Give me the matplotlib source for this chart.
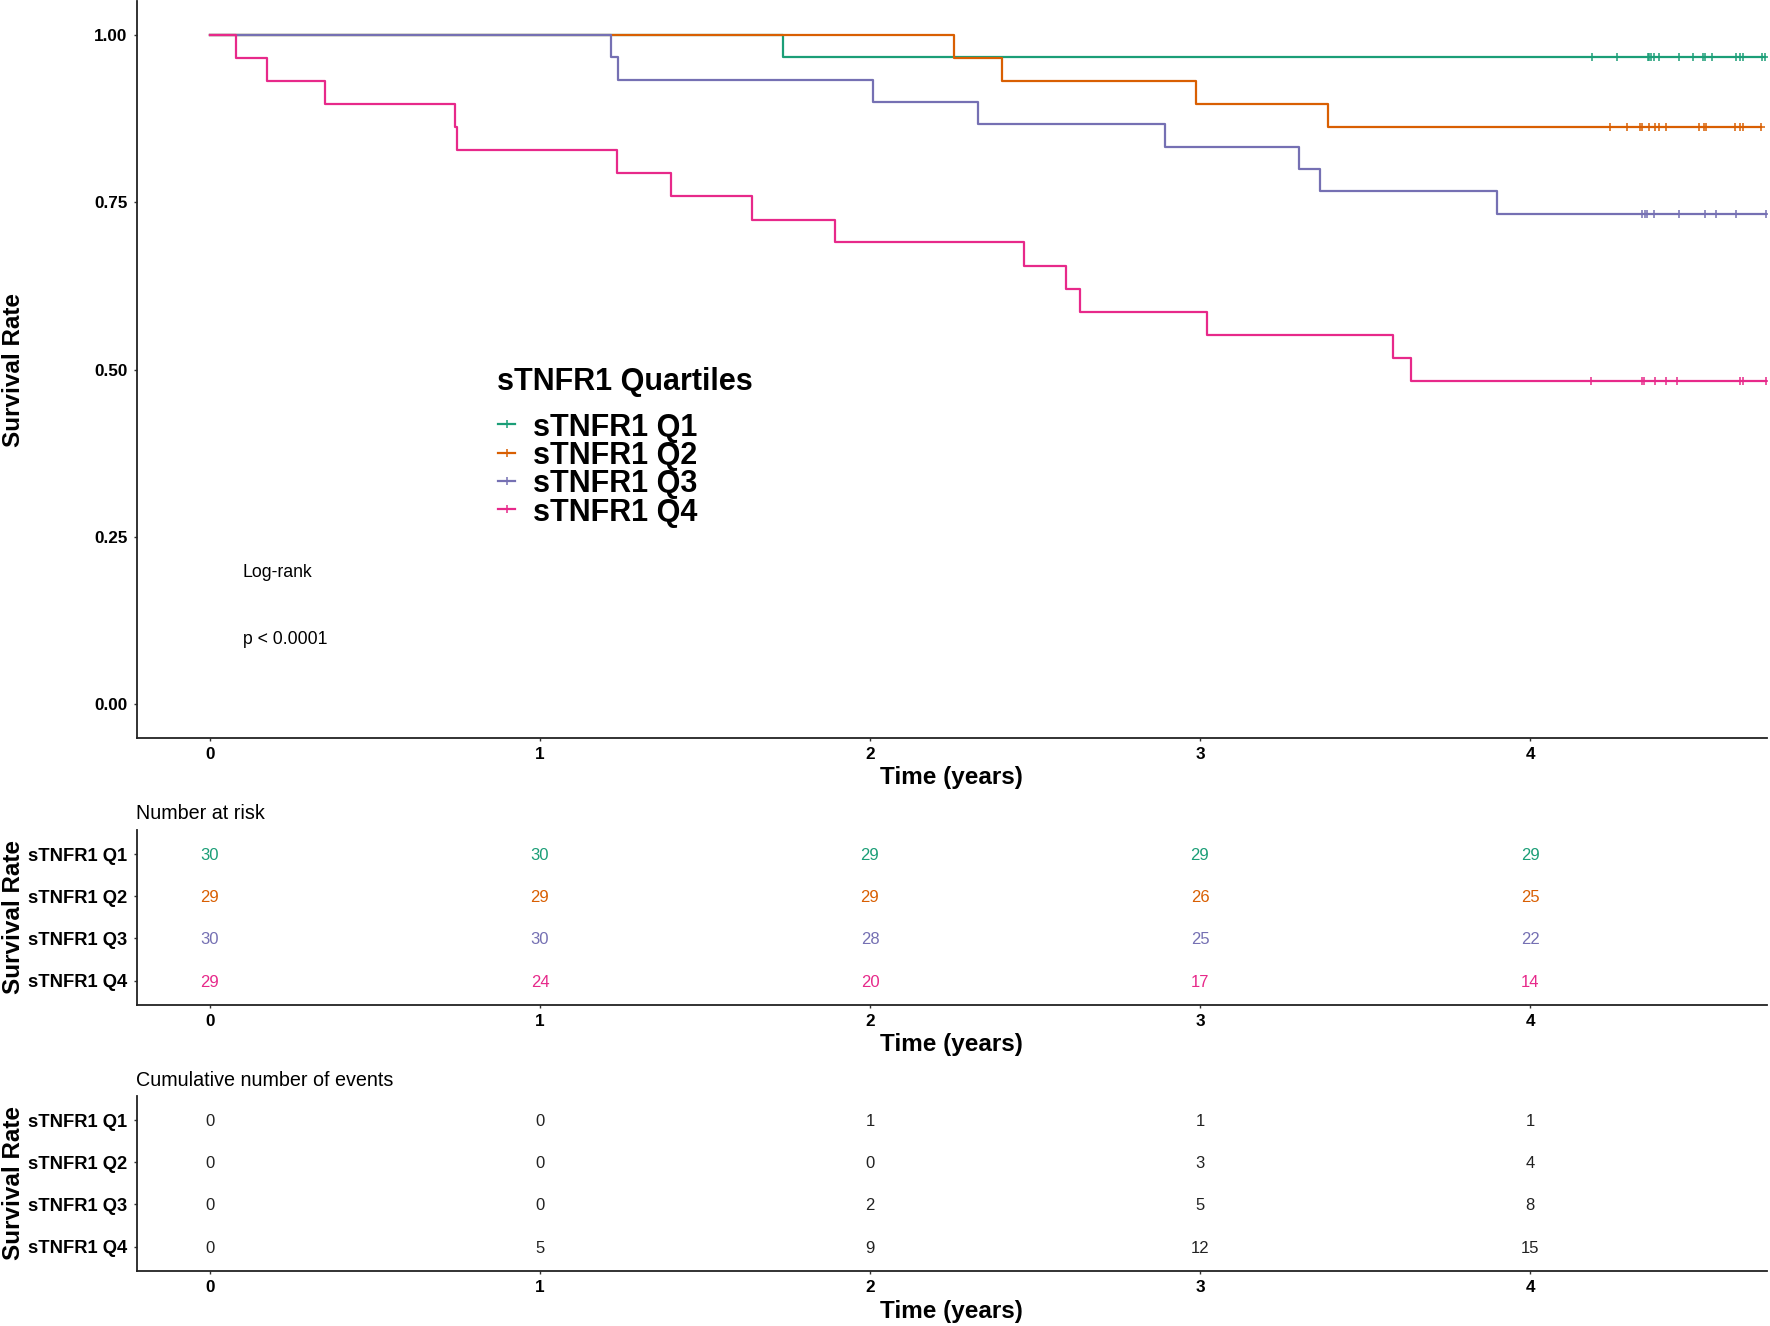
import matplotlib
matplotlib.use('Agg')
import matplotlib.pyplot as plt
import numpy as np

plt.rcParams['font.family'] = ['Liberation Sans', 'DejaVu Sans']

# groups and colours (Dark2)
groups = ['sTNFR1 Q1', 'sTNFR1 Q2', 'sTNFR1 Q3', 'sTNFR1 Q4']
colors = ['#1B9E77', '#D95F02', '#7570B3', '#E7298A']

# event times (years) and survival level after each event
q1_times = [1.736]
q1_surv = [0.967]
q2_times = [2.254, 2.399, 2.988, 3.388]
q2_surv = [0.966, 0.931, 0.897, 0.862]
q3_times = [1.216, 1.237, 2.008, 2.328, 2.895, 3.299, 3.364, 3.901]
q3_surv = [0.967, 0.933, 0.900, 0.867, 0.833, 0.800, 0.767, 0.733]
q4_times = [0.078, 0.172, 0.348, 0.744, 0.748, 1.235, 1.396, 1.643, 1.895,
            2.466, 2.593, 2.637, 3.020, 3.585, 3.638]
q4_surv = [0.966, 0.931, 0.897, 0.862, 0.828, 0.793, 0.759, 0.724, 0.690,
           0.655, 0.621, 0.586, 0.552, 0.517, 0.483]

# censoring times (years)
q1_cens = [4.188, 4.263, 4.356, 4.360, 4.368, 4.376, 4.392, 4.450, 4.493,
           4.525, 4.529, 4.552, 4.623, 4.637, 4.645, 4.702, 4.712]
q2_cens = [4.242, 4.293, 4.334, 4.338, 4.360, 4.380, 4.390, 4.412, 4.513,
           4.528, 4.532, 4.621, 4.636, 4.646, 4.700]
q3_cens = [4.339, 4.349, 4.354, 4.376, 4.450, 4.529, 4.564, 4.623, 4.715]
q4_cens = [4.185, 4.339, 4.345, 4.378, 4.412, 4.446, 4.637, 4.645, 4.715]

event_times = [q1_times, q2_times, q3_times, q4_times]
surv_levels = [q1_surv, q2_surv, q3_surv, q4_surv]
cens_times = [q1_cens, q2_cens, q3_cens, q4_cens]

# tables
table_years = [0, 1, 2, 3, 4]
at_risk = [[30, 30, 29, 29, 29],
           [29, 29, 29, 26, 25],
           [30, 30, 28, 25, 22],
           [29, 24, 20, 17, 14]]
cum_events = [[0, 0, 1, 1, 1],
              [0, 0, 0, 3, 4],
              [0, 0, 2, 5, 8],
              [0, 5, 9, 12, 15]]

XLIM = (-0.222, 4.718)
tick_kw = dict(length=2.5, width=1, color='#333333', pad=4.2)


def style_axes(a):
    for s in ['top', 'right']:
        a.spines[s].set_visible(False)
    for s in ['left', 'bottom']:
        a.spines[s].set_linewidth(1.3)
        a.spines[s].set_color('#222222')
    a.tick_params(axis='both', **tick_kw)


fig = plt.figure(figsize=(17.7, 13.26), dpi=100)

# ---- survival curves
ax = fig.add_axes([0.0772, 0.4437, 0.9211, 0.5552])
for i in range(4):
    t = [0] + event_times[i] + [max(cens_times[i])]
    s = [1.0] + surv_levels[i] + [surv_levels[i][-1]]
    ax.step(t, s, where='post', color=colors[i], lw=1.6)
    idx = np.searchsorted(event_times[i], cens_times[i], side='right')
    cy = np.array([1.0] + surv_levels[i])[idx]
    ax.plot(cens_times[i], cy, ls='none', marker='+', ms=6, mew=1.1,
            color=colors[i])
ax.set_xlim(*XLIM)
ax.set_ylim(-0.05, 1.05)
ax.set_xticks(table_years)
ax.set_xticklabels([str(v) for v in table_years], fontsize=12.3, fontweight='bold')
ax.set_yticks([0, 0.25, 0.5, 0.75, 1.0])
ax.set_yticklabels(['0.00', '0.25', '0.50', '0.75', '1.00'], fontsize=12.3,
                   fontweight='bold')
style_axes(ax)

ax.text(0.1, 0.2, 'Log-rank', fontsize=12.7, ha='left', va='center_baseline')
ax.text(0.1, 0.1, 'p < 0.0001', fontsize=12.7, ha='left', va='center_baseline')

# legend
ax.text(0.2208, 0.4872, 'sTNFR1 Quartiles', transform=ax.transAxes,
        fontsize=22, fontweight='bold', ha='left', va='center_baseline')
for i, g in enumerate(groups):
    ly = 0.4256 - i * 0.0384
    ax.plot([0.2219, 0.2323], [ly, ly], transform=ax.transAxes,
            color=colors[i], lw=1.6)
    ax.plot([0.2271], [ly], transform=ax.transAxes, marker='+', ms=6,
            mew=1.1, color=colors[i])
    ax.text(0.2430, ly, g, transform=ax.transAxes, fontsize=22,
            fontweight='bold', ha='left', va='center_baseline')

# ---- tables
def draw_table(rect, values, colored):
    t = fig.add_axes(rect)
    for i in range(4):
        for j, yr in enumerate(table_years):
            t.text(yr, i + 1, str(values[i][j]), ha='center',
                   va='center_baseline', fontsize=12,
                   color=colors[i] if colored else '#222222')
    t.set_xlim(*XLIM)
    t.set_ylim(4.58, 0.42)
    t.set_xticks(table_years)
    t.set_xticklabels([str(v) for v in table_years], fontsize=12.3,
                      fontweight='bold')
    t.set_yticks([1, 2, 3, 4])
    t.set_yticklabels(groups, fontsize=13.2, fontweight='bold')
    style_axes(t)
    return t


draw_table([0.0772, 0.2421, 0.9211, 0.1320], at_risk, True)
draw_table([0.0772, 0.0415, 0.9211, 0.1320], cum_events, False)

fig.text(0.0766, 0.3879, 'Number at risk', fontsize=14.2, ha='left',
         va='center_baseline')
fig.text(0.0766, 0.1863, 'Cumulative number of events', fontsize=14.2,
         ha='left', va='center_baseline')

# axis titles
for yc in [0.4152, 0.2142, 0.0125]:
    fig.text(0.5378, yc, 'Time (years)', fontsize=17.5, fontweight='bold',
             ha='center', va='center_baseline')
for yc in [0.7213, 0.3088, 0.1075]:
    fig.text(0.0075, yc, 'Survival Rate', fontsize=17.5, fontweight='bold',
             rotation=90, ha='center', va='center')

fig.savefig('out.png', dpi=100)
